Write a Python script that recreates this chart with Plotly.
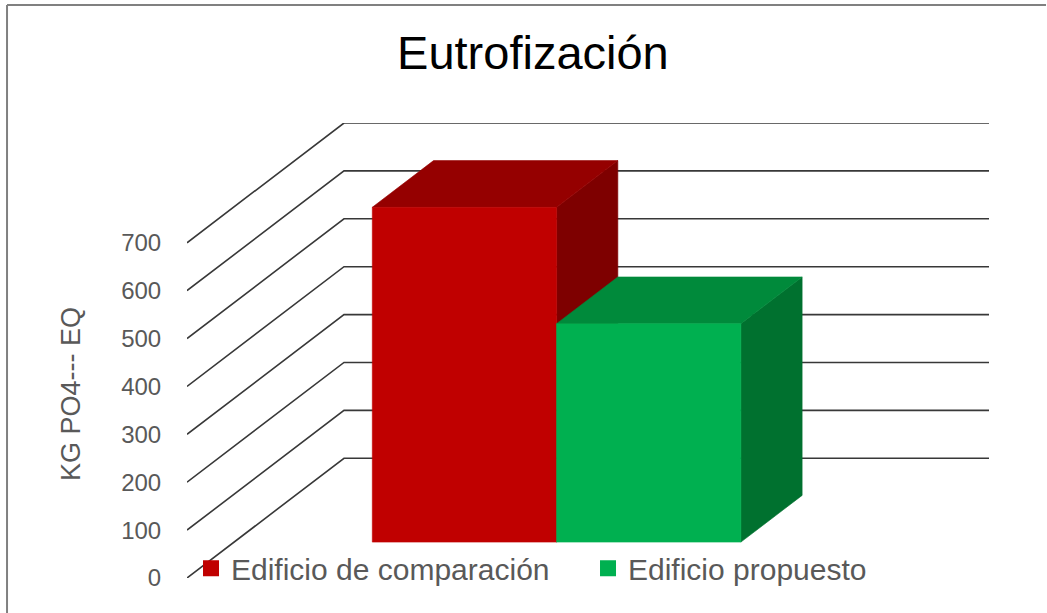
import plotly.graph_objects as go

# Data
series_names = ["Edificio de comparación", "Edificio propuesto"]
values = [699, 456]
tick_values = [0, 100, 200, 300, 400, 500, 600, 700]
tick_labels = ["0", "100", "200", "300", "400", "500", "600", "700"]
axis_max = 700

# Face colours for each series: front, top, right side
front_colors = ["#C00000", "#00B050"]
top_colors = ["#950000", "#008A3B"]
side_colors = ["#7E0000", "#00712F"]

FONT = "Arial, 'Liberation Sans', sans-serif"
GRID_COLOR = "#383838"
TEXT_GRAY = "#595959"

# Oblique projection for the 3D look: depth t in [0, 1] shifts points
# up and to the right.
DEPTH_X = 0.2434      # x shift over full depth (category units)
DEPTH_Y = 250.0       # y shift over full depth (value units)
GAP_WIDTH = 1.5       # gap between clusters, as a fraction of bar width
BAR_T0, BAR_T1 = 0.30, 0.69   # depth of bar front and back faces


def proj(x, v, t):
    return x + t * DEPTH_X, v + t * DEPTH_Y


def poly(points):
    xs = [p[0] for p in points] + [points[0][0]]
    ys = [p[1] for p in points] + [points[0][1]]
    return xs, ys


fig = go.Figure()

# Walls: diagonal side-wall gridline joined to the horizontal back-wall gridline
for v in tick_values:
    pts = [proj(0, v, 0), proj(0, v, 1), proj(1, v, 1)]
    fig.add_trace(go.Scatter(
        x=[p[0] for p in pts], y=[p[1] for p in pts],
        mode="lines", line=dict(color=GRID_COLOR, width=1.6),
        hoverinfo="skip", showlegend=False))

# Bars as cuboids (side, top, front), drawn left to right
bar_w = 1.0 / (len(values) + GAP_WIDTH)
x_start = GAP_WIDTH * bar_w / 2
for i, (name, v) in enumerate(zip(series_names, values)):
    x0 = x_start + i * bar_w
    x1 = x0 + bar_w
    side = [proj(x1, 0, BAR_T0), proj(x1, 0, BAR_T1),
            proj(x1, v, BAR_T1), proj(x1, v, BAR_T0)]
    top = [proj(x0, v, BAR_T0), proj(x1, v, BAR_T0),
           proj(x1, v, BAR_T1), proj(x0, v, BAR_T1)]
    front = [proj(x0, 0, BAR_T0), proj(x1, 0, BAR_T0),
             proj(x1, v, BAR_T0), proj(x0, v, BAR_T0)]
    for face, color in ((side, side_colors[i]), (top, top_colors[i]),
                        (front, front_colors[i])):
        xs, ys = poly(face)
        fig.add_trace(go.Scatter(
            x=xs, y=ys, mode="lines", fill="toself", fillcolor=color,
            line=dict(color=color, width=0.6),
            hoverinfo="skip", showlegend=False))

# Legend entries
for name, color in zip(series_names, front_colors):
    fig.add_trace(go.Scatter(
        x=[None], y=[None], mode="markers", name=name,
        marker=dict(symbol="square", size=16, color=color)))

# Border of the chart area (left and top edges)
fig.add_shape(type="line", xref="paper", yref="paper",
              x0=-0.2244, x1=-0.2244, y0=1.2596, y1=-0.2,
              line=dict(color="#808080", width=2))
fig.add_shape(type="line", xref="paper", yref="paper",
              x0=-0.2244, x1=1.0711, y0=1.2596, y1=1.2596,
              line=dict(color="#808080", width=2))

# Value axis title
fig.add_annotation(
    text="KG PO4--- EQ", textangle=-90, showarrow=False,
    xref="paper", yref="paper", x=-0.1446, y=0.4044,
    xanchor="center", yanchor="middle",
    font=dict(family=FONT, size=27, color=TEXT_GRAY))

fig.update_layout(
    width=1047, height=613,
    margin=dict(l=187, r=58, t=123, b=35, autoexpand=False),
    paper_bgcolor="white", plot_bgcolor="white",
    font=dict(family=FONT),
    hovermode=False,
    title=dict(text="Eutrofización", xref="container", yref="container",
               x=0.509, y=0.915, xanchor="center", yanchor="middle",
               font=dict(family=FONT, size=47, color="black")),
    showlegend=True,
    legend=dict(orientation="h", xref="paper", yref="paper",
                x=0.005, y=0.0215, xanchor="left", yanchor="middle",
                font=dict(family=FONT, size=30, color=TEXT_GRAY),
                bgcolor="rgba(0,0,0,0)", borderwidth=0,
                entrywidth=352, entrywidthmode="pixels",
                itemsizing="trace"),
    xaxis=dict(range=[0, 1 + DEPTH_X], visible=False, fixedrange=True),
    yaxis=dict(range=[0, axis_max + DEPTH_Y], tickmode="array",
               tickvals=tick_values, ticktext=tick_labels,
               tickfont=dict(family=FONT, size=24, color=TEXT_GRAY),
               showgrid=False, zeroline=False, showline=False,
               ticks="outside", ticklen=20, tickcolor="rgba(0,0,0,0)",
               automargin=False, fixedrange=True),
)

fig.write_html("out.html")
